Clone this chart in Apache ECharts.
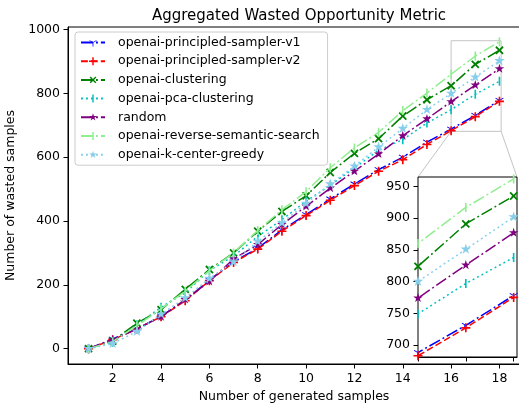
<!DOCTYPE html>
<html>
<head>
<meta charset="utf-8">
<script src="https://cdn.jsdelivr.net/npm/echarts@6/dist/echarts.min.js"></script>
<style>
html,body{margin:0;padding:0;background:#fff;}
#c{width:519px;height:407px;}
</style>
</head>
<body>
<div id="c"></div>
<script>
// ---- data ----
const xValues = [1,2,3,4,5,6,7,8,9,10,11,12,13,14,15,16,17,18];
const seriesNames = [
  'openai-principled-sampler-v1',
  'openai-principled-sampler-v2',
  'openai-clustering',
  'openai-pca-clustering',
  'random',
  'openai-reverse-semantic-search',
  'openai-k-center-greedy'
];
const samplerV1 = [0,30,62,102,152,215,272,315,372,420,469,516,561,600,647,688,731,778];
const samplerV2 = [0,28,62,100,150,213,270,312,368,417,465,511,556,592,640,683,727,775];
const clustering = [0,24,80,122,186,248,300,368,430,479,552,612,658,729,780,824,891,935];
const pcaClustering = [0,20,75,130,175,245,290,352,404,462,512,566,622,655,707,749,797,838];
const randomSel = [0,28,62,100,154,211,281,326,389,446,503,556,610,667,720,774,826,877];
const reverseSemantic = [0,22,72,125,180,245,300,370,435,492,567,629,678,746,801,860,917,962];
const kCenterGreedy = [0,16,54,108,159,220,272,336,394,455,516,572,632,690,749,800,851,902];
const yTicks = [0,200,400,600,800,1000];
const xTicks = [2,4,6,8,10,12,14,16,18];
const insetYTicks = [700,750,800,850,900,950];
const insetXTicks = [16,17,18];

const valuesList = [samplerV1, samplerV2, clustering, pcaClustering, randomSel, reverseSemantic, kCenterGreedy];

// ---- styles ----
const FONT = 'DejaVu Sans';
const dashDash = [6.9, 3];
const dashDot = [12, 3, 1.9, 3];
const dotted = [1.9, 3.1];
// tiny corner specks keep every path's bounding box square and centred
const corners10 = 'M0,0L0.01,0L0,0.01Z M10,10L9.99,10L10,9.99Z ';
const plusPath = 'path://M4.1,0H5.9V4.1H10V5.9H5.9V10H4.1V5.9H0V4.1H4.1Z';
const triDownPath = 'path://' + corners10 + 'M4.5,5L5.5,5L5.5,10L4.5,10Z M5.25,4.567L0.92,2.067L0.42,2.933L4.75,5.433Z M4.75,4.567L9.08,2.067L9.58,2.933L5.25,5.433Z';
const vlinePath = 'path://' + corners10 + 'M4.1,0H5.9V10H4.1Z';
const starPath = 'path://M0,0L0.1,0L0,0.1Z M100,100L99.9,100L100,99.9Z M50,0L61.2,34.5L97.6,34.5L68.2,55.9L79.4,90.5L50,69.1L20.6,90.5L31.8,55.9L2.4,34.5L38.8,34.5Z';

const styles = [
  {color:'#0000ff', dash:dashDot, symbol:triDownPath, size:9, rotate:0},
  {color:'#ff0000', dash:dashDash, symbol:plusPath, size:9, rotate:0},
  {color:'#008000', dash:dashDot, symbol:plusPath, size:10, rotate:45},
  {color:'#00bfbf', dash:dotted, symbol:vlinePath, size:9, rotate:0},
  {color:'#800080', dash:dashDot, symbol:starPath, size:10, rotate:0},
  {color:'#90ee90', dash:dashDot, symbol:vlinePath, size:9, rotate:0},
  {color:'#87ceeb', dash:dotted, symbol:starPath, size:11, rotate:0}
];

function makeSeries(idx, gridIdx) {
  const st = styles[idx];
  return {
    name: seriesNames[idx],
    type: 'line',
    xAxisIndex: gridIdx, yAxisIndex: gridIdx,
    data: xValues.map((x, i) => [x, valuesList[idx][i]]),
    symbol: st.symbol,
    symbolSize: st.size,
    symbolRotate: st.rotate,
    symbolKeepAspect: true,
    showSymbol: true,
    clip: true,
    color: st.color,
    itemStyle: {color: st.color},
    lineStyle: {color: st.color, width: 1.5, type: st.dash},
    emphasis: {disabled: true},
    z: (gridIdx === 0 ? 2 : 6) + idx * 0.01
  };
}

const series = [];
for (let i = 0; i < seriesNames.length; i++) series.push(makeSeries(i, 0));
for (let i = 0; i < seriesNames.length; i++) series.push(makeSeries(i, 1));

const axisLabelStyle = {color:'#000', fontFamily:FONT, fontSize:12.5, formatter: v => String(v)};
const mainX = [0.15, 18.85];
const mainY = [-48, 1008];
const insetX = [16, 18.07];
const insetY = [681, 965];

const chart = echarts.init(document.getElementById('c'), null, {renderer:'canvas'});
chart.setOption({
  animation: false,
  backgroundColor: '#fff',
  title: {
    text: 'Aggregated Wasted Opportunity Metric',
    left: 294, top: 4, textAlign: 'center',
    textStyle: {fontFamily:FONT, fontSize:15, fontWeight:'normal', color:'#000'}
  },
  legend: {
    data: seriesNames,
    orient: 'vertical',
    left: 75, top: 32,
    padding: [4, 8, 4, 5],
    itemWidth: 24, itemHeight: 10, itemGap: 5.7,
    backgroundColor: 'rgba(255,255,255,0.85)',
    borderColor: '#cccccc', borderWidth: 1, borderRadius: 3,
    textStyle: {fontFamily:FONT, fontSize:12.5, color:'#000', padding:[0,0,0,8]},
    selectedMode: false,
    z: 8
  },
  grid: [
    {left:68, top:27, width:452, height:337, show:true, borderColor:'#000', borderWidth:1,
     backgroundColor:'transparent', containLabel:false, outerBoundsMode:'none'},
    {left:418, top:177, width:99, height:180, show:true, borderColor:'#000', borderWidth:1,
     backgroundColor:'#fff', z:3, containLabel:false, outerBoundsMode:'none'}
  ],
  xAxis: [
    {type:'value', gridIndex:0, min:mainX[0], max:mainX[1],
     name:'Number of generated samples', nameLocation:'middle', nameGap:25,
     nameTextStyle:{fontFamily:FONT, fontSize:12.5, color:'#000'},
     axisLine:{show:true, onZero:false, lineStyle:{color:'#000', width:1}},
     axisTick:{show:true, length:4.5, customValues:xTicks, lineStyle:{color:'#000'}},
     axisLabel:Object.assign({margin:8, customValues:xTicks}, axisLabelStyle),
     splitLine:{show:false}},
    {type:'value', gridIndex:1, min:insetX[0], max:insetX[1],
     axisLine:{show:true, onZero:false, lineStyle:{color:'#000', width:1}},
     axisTick:{show:true, length:4.5, customValues:insetXTicks, lineStyle:{color:'#000'}},
     axisLabel:{show:false},
     splitLine:{show:false}}
  ],
  yAxis: [
    {type:'value', gridIndex:0, min:mainY[0], max:mainY[1],
     name:'Number of wasted samples', nameLocation:'middle', nameGap:46, nameRotate:90,
     nameTextStyle:{fontFamily:FONT, fontSize:12.5, color:'#000'},
     axisLine:{show:true, onZero:false, lineStyle:{color:'#000', width:1}},
     axisTick:{show:true, length:4.5, customValues:yTicks, lineStyle:{color:'#000'}},
     axisLabel:Object.assign({margin:8, customValues:yTicks}, axisLabelStyle),
     splitLine:{show:false}},
    {type:'value', gridIndex:1, min:insetY[0], max:insetY[1],
     axisLine:{show:true, onZero:false, lineStyle:{color:'#000', width:1}},
     axisTick:{show:true, length:4.5, customValues:insetYTicks, lineStyle:{color:'#000'}},
     axisLabel:Object.assign({margin:8, customValues:insetYTicks}, axisLabelStyle),
     splitLine:{show:false}}
  ],
  series: series
});

// zoom indicator rectangle and connectors, placed through the library's scales
const p1 = chart.convertToPixel({gridIndex:0}, [insetX[0], insetY[1]]);
const p2 = chart.convertToPixel({gridIndex:0}, [insetX[1], insetY[0]]);
const q1 = chart.convertToPixel({gridIndex:1}, [insetX[0], insetY[1]]);
const q2 = chart.convertToPixel({gridIndex:1}, [insetX[1], insetY[1]]);
const lineCol = '#c4c4c4';
chart.setOption({
  graphic: [
    {type:'rect', shape:{x:p1[0], y:p1[1], width:p2[0]-p1[0], height:p2[1]-p1[1]},
     style:{fill:'none', stroke:lineCol, lineWidth:1}, z:1, silent:true},
    {type:'line', shape:{x1:p1[0], y1:p2[1], x2:q1[0], y2:q1[1]},
     style:{stroke:lineCol, lineWidth:1}, z:1, silent:true},
    {type:'line', shape:{x1:p2[0], y1:p2[1], x2:q2[0], y2:q2[1]},
     style:{stroke:lineCol, lineWidth:1}, z:1, silent:true}
  ]
});
</script>
</body>
</html>
